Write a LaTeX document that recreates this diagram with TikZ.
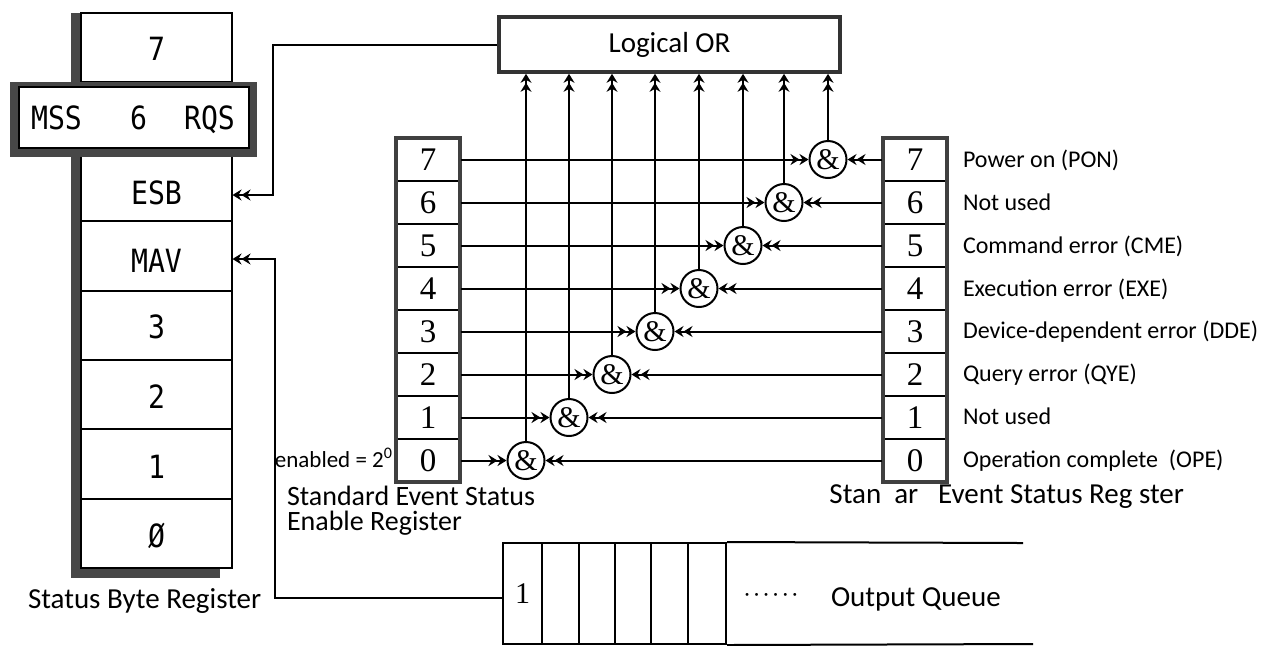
\documentclass[tikz,border=0pt]{standalone}
\usepackage{fontspec}
\setmainfont{Carlito}
\newfontfamily\monof[FakeStretch=0.88]{DejaVu Sans Mono}
\newfontfamily\serf{Liberation Serif}
\usetikzlibrary{arrows.meta,calc}
\begin{document}
\begin{tikzpicture}[x=0.5pt,y=-0.5pt,line width=1pt,
  arr/.style={-{Stealth[length=4.5pt,width=5.5pt,inset=1.5pt]Stealth[length=4.5pt,width=5.5pt,inset=1.5pt]}},
  sbcell/.style={draw,minimum width=75.5pt,minimum height=34.7pt,inner sep=0pt,fill=white},
  sbtext/.style={inner sep=0pt,anchor=base,font=\monof\fontsize{16}{16}\selectfont},
  regcell/.style={draw,line width=0.8pt,minimum width=32pt,minimum height=21.5pt,inner sep=0pt,font=\serf\fontsize{16.5}{16.5}\selectfont},
  gate/.style={draw,circle,fill=white,minimum size=18.5pt,inner sep=0pt,font=\serf\fontsize{15}{15}\selectfont},
  lbl/.style={inner sep=0pt,font=\fontsize{14.5}{15}\selectfont},
  slbl/.style={inner sep=0pt,anchor=base west,font=\fontsize{12}{12}\selectfont},
  qcell/.style={draw,minimum height=50.5pt,inner sep=0pt,font=\serf\fontsize{15}{15}\selectfont},
  shade/.style={fill=black!72,draw=none},
  regframe/.style={draw=black!75,line width=2pt},
]
\useasboundingbox (0,0) rectangle (1277,645);

% ---------- Status Byte Register ----------
\fill[shade] (71,13) rectangle (81,578);
\fill[shade] (71,568) rectangle (220,578);
\node[sbcell] (sb7) at (156.5,47.7) {};
\node[sbcell] (esb) at (156.5,186.5) {};
\node[sbcell] (mav) at (156.5,255.9) {};
\node[sbcell] (sb3) at (156.5,325.3) {};
\node[sbcell] (sb2) at (156.5,394.7) {};
\node[sbcell] (sb1) at (156.5,464.1) {};
\node[sbcell] (sb0) at (156.5,533.5) {};
\node[sbtext] (t7) at (156.5,60) {7};
\node[sbtext] (tesb) at (156.5,204) {ESB};
\node[sbtext] (tmav) at (156.5,272) {MAV};
\node[sbtext] (t3) at (156.5,338) {3};
\node[sbtext] (t2) at (156.5,408) {2};
\node[sbtext] (t1) at (156.5,478) {1};
\node[sbtext] (t0) at (156.5,547) {Ø};
\fill[shade] (10,82) rectangle (257,157);
\node[draw,fill=white,line width=0.6pt,minimum width=115pt,minimum height=30.5pt,inner sep=0pt] (mss) at (134,117.5) {};
\node[sbtext] (msst) at (56.5,129) {MSS};
\node[sbtext] (mss6) at (138.5,129) {6};
\node[sbtext] (rqst) at (209.5,129) {RQS};
\node[lbl,anchor=base west] (sbrl) at (27,608) {Status Byte Register};

% ---------- Logical OR ----------
\node[draw=black!80,line width=1.8pt,minimum width=170.5pt,minimum height=27.5pt,inner sep=0pt,font=\fontsize{14.5}{15}\selectfont] (lor) at (669.5,44.5) {Logical OR};

% ---------- registers ----------
\foreach \k in {0,...,7} {
  \node[regcell] (e\k) at (428,{460.5-43*\k}) {\k};
  \node[regcell] (s\k) at (915,{460.5-43*\k}) {\k};
}
\draw[regframe] (396,138) rectangle (460,482);
\draw[regframe] (883,138) rectangle (947,482);

% ---------- AND gates ----------
\foreach \k/\x in {0/526,1/569,2/612,3/655,4/699,5/743,6/784,7/828} {
  \node[gate] (g\k) at (\x,{460.5-43*\k}) {\&};
  \draw[arr] (e\k.east) -- (g\k.west);
  \draw[arr] (s\k.west) -- (g\k.east);
  \draw[arr] (g\k.north) -- (g\k.north |- lor.south);
}

% ---------- labels ----------
\node[anchor=base east,inner sep=0pt,font=\fontsize{11.5}{12}\selectfont] (enl) at (394,467) {enabled = 2\textsuperscript{0}};
\node[lbl,anchor=base west,font=\fontsize{14}{14}\selectfont] (sesel1) at (286,505) {Standard Event Status};
\node[lbl,anchor=base west,font=\fontsize{14}{14}\selectfont] (sesel2) at (286,530) {Enable Register};
\node[lbl,anchor=base east] (sesrl) at (1185,503) {Stan\ \ ar\ \ \ Event Status Reg\ ster};

\node[slbl] (l7) at (962,167) {Power on (PON)};
\node[slbl] (l6) at (962,210) {Not used};
\node[slbl] (l5) at (962,253) {Command error (CME)};
\node[slbl] (l4) at (962,296) {Execution error (EXE)};
\node[slbl] (l3) at (962,338) {Device-dependent error (DDE)};
\node[slbl] (l2) at (962,381) {Query error (QYE)};
\node[slbl] (l1) at (962,424) {Not used};
\node[slbl] (l0) at (962,467) {Operation complete\ \ (OPE)};

% ---------- Output queue ----------
\node[qcell,minimum width=19.5pt] (q1) at (522.5,593.5) {1};
\node[qcell,minimum width=18.5pt] (q2) at (560.5,593.5) {};
\node[qcell,minimum width=18pt] (q3) at (597,593.5) {};
\node[qcell,minimum width=18pt] (q4) at (633,593.5) {};
\node[qcell,minimum width=18.5pt] (q5) at (669.5,593.5) {};
\node[qcell,minimum width=19pt] (q6) at (707,593.5) {};
\coordinate (qte) at (1023,543);
\coordinate (qbe) at (1033,644);
\draw (q6.north east) -- (qte);
\draw (q6.south east) -- (qbe);
\node[inner sep=0pt,font=\fontsize{10}{10}\selectfont] (qdots) at (771,597) {· · · · · ·};
\node[lbl,anchor=base west] (oq) at (830,606) {Output Queue};

% ---------- connectors to status byte ----------
\coordinate (esbk) at (273,44.5);
\coordinate (esbin) at (232.5,195);
\draw[arr] (lor.west) -- (esbk) |- (esbin);
\coordinate (qin) at (503,598);
\coordinate (mavk) at (275,598);
\coordinate (mavin) at (232.5,259);
\draw[arr] (qin) -- (mavk) |- (mavin);
\end{tikzpicture}
\end{document}
